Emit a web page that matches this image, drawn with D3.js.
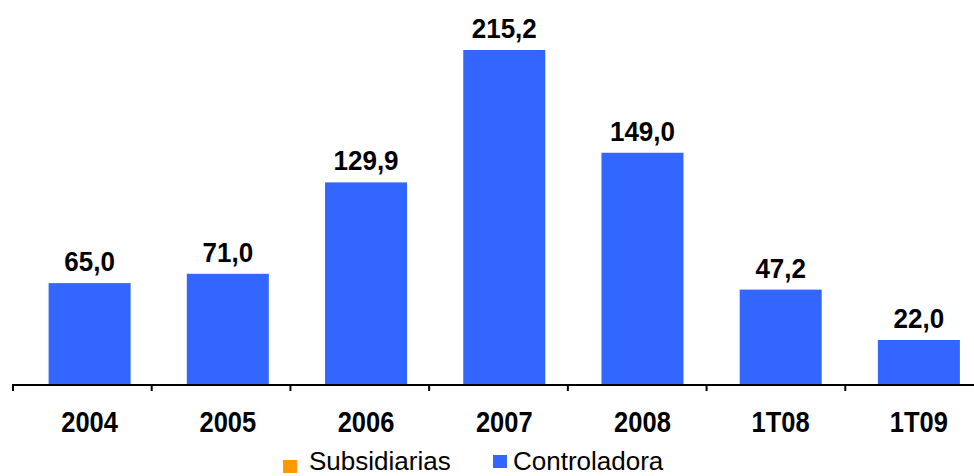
<!DOCTYPE html>
<html>
<head>
<meta charset="utf-8">
<script src="https://cdn.jsdelivr.net/npm/d3@7"></script>
<style>
  html, body { margin: 0; padding: 0; background: #fff; }
  svg { display: block; font-family: "Liberation Sans", Arial, sans-serif; }
</style>
</head>
<body>
<svg id="chart" width="974" height="476"></svg>
<script>
// Periods and values (annual years, then first quarters)
const categories = ["2004", "2005", "2006", "2007", "2008", "1T08", "1T09"];
const controladora = [65.0, 71.0, 129.9, 215.2, 149.0, 47.2, 22.0];
const quarterly = ["1T08", "1T09"];
const legendItems = ["Subsidiarias", "Controladora"];

const colors = { Subsidiarias: "#FF9900", Controladora: "#3366FF" };
const fmt = v => d3.format(".1f")(v).replace(".", ",");

const svg = d3.select("#chart");
const baseY = 384, topY = 50;

// tick bands along the axis, and a slightly offset band scale for the bars
const x = d3.scaleBand().domain(categories).range([13, 984]);
const xBar = d3.scaleBand().domain(categories).range([20.5, 988]);
const barW = 82;
const cx = c => xBar(c) + xBar.bandwidth() / 2;

// annual bars and quarterly bars each get their own vertical scale
const yAnnual = d3.scaleLinear()
  .domain([0, d3.max(controladora.filter((v, i) => !quarterly.includes(categories[i])))])
  .range([baseY, topY]);
const yQuarter = d3.scaleLinear().domain([0, 167]).range([baseY, topY]);
const yFor = c => quarterly.includes(c) ? yQuarter : yAnnual;

const data = categories.map((c, i) => ({ c, v: controladora[i] }));

// bars
svg.append("g").selectAll("rect").data(data).join("rect")
  .attr("x", d => cx(d.c) - barW / 2)
  .attr("width", barW)
  .attr("y", d => yFor(d.c)(d.v))
  .attr("height", d => baseY - yFor(d.c)(d.v))
  .attr("fill", colors.Controladora);

// value labels
svg.append("g").selectAll("text").data(data).join("text")
  .attr("transform", d => `translate(${cx(d.c)},${yFor(d.c)(d.v) - 12}) scale(1,1.08)`)
  .attr("text-anchor", "middle")
  .attr("font-size", 26)
  .attr("font-weight", "bold")
  .attr("fill", "#000")
  .text(d => fmt(d.v));

// category axis
const axis = svg.append("g");
axis.append("line")
  .attr("x1", 13).attr("x2", 974)
  .attr("y1", baseY + 1).attr("y2", baseY + 1)
  .attr("stroke", "#000").attr("stroke-width", 2);
axis.selectAll("line.tick").data(categories).join("line")
  .attr("class", "tick")
  .attr("x1", d => x(d)).attr("x2", d => x(d))
  .attr("y1", baseY).attr("y2", baseY + 7)
  .attr("stroke", "#000").attr("stroke-width", 2);
axis.selectAll("text").data(categories).join("text")
  .attr("transform", d => `translate(${cx(d)},432) scale(1,1.15)`)
  .attr("text-anchor", "middle")
  .attr("font-size", 25.5)
  .attr("font-weight", "bold")
  .attr("fill", "#000")
  .text(d => d);

// legend
const legend = svg.append("g");
const legendPos = [{ sx: 283, sy: 460, tx: 309 }, { sx: 493, sy: 455, tx: 513 }];
legendItems.forEach((name, i) => {
  const p = legendPos[i];
  legend.append("rect")
    .attr("x", p.sx).attr("y", p.sy).attr("width", 14).attr("height", 13)
    .attr("fill", colors[name]);
  legend.append("text")
    .attr("x", p.tx).attr("y", 470)
    .attr("font-size", 26)
    .attr("fill", "#000")
    .text(name);
});
</script>
</body>
</html>
